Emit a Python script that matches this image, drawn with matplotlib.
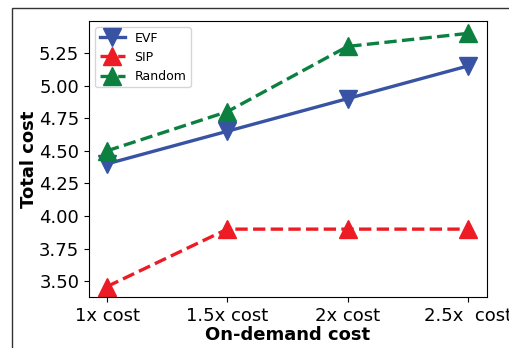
import matplotlib
matplotlib.use("Agg")
import matplotlib.pyplot as plt
from matplotlib.patches import Rectangle

labels = ["1x cost", "1.5x cost", "2x cost", "2.5x  cost"]
evf = [4.40, 4.65, 4.90, 5.15]
sip = [3.46, 3.90, 3.90, 3.90]
rnd = [4.50, 4.80, 5.30, 5.40]

fig = plt.figure(figsize=(5.1, 3.48), dpi=100)
ax = fig.add_axes([0.1745, 0.1466, 0.7805, 0.7931])

x = list(range(len(labels)))
ax.plot(x, evf, color="#3953a4", linestyle="-", linewidth=2.4, marker="v", markersize=13, label="EVF")
ax.plot(x, sip, color="#ed1c24", linestyle="--", linewidth=2.4, marker="^", markersize=13, label="SIP")
ax.plot(x, rnd, color="#0c8040", linestyle="--", linewidth=2.4, marker="^", markersize=13, label="Random")

ax.set_xticks(x)
ax.set_xticklabels(labels, fontsize=13)
ax.set_yticks([3.50, 3.75, 4.00, 4.25, 4.50, 4.75, 5.00, 5.25])
ax.tick_params(axis="y", labelsize=13)
ax.set_xlim(-0.15, 3.16)
ax.set_ylim(3.38, 5.495)
ax.set_xlabel("On-demand cost", fontsize=13, fontweight="bold", labelpad=1)
ax.set_ylabel("Total cost", fontsize=13, fontweight="bold", labelpad=1)
ax.legend(loc="upper left", fontsize=9, borderaxespad=0.5, borderpad=0.35)

fig.patches.append(Rectangle((12 / 510, -0.05), 1.1, 1 - 8 / 348 + 0.05, transform=fig.transFigure,
                             fill=False, edgecolor="#333333", linewidth=1, clip_on=False))

fig.savefig("out.png", dpi=100)
